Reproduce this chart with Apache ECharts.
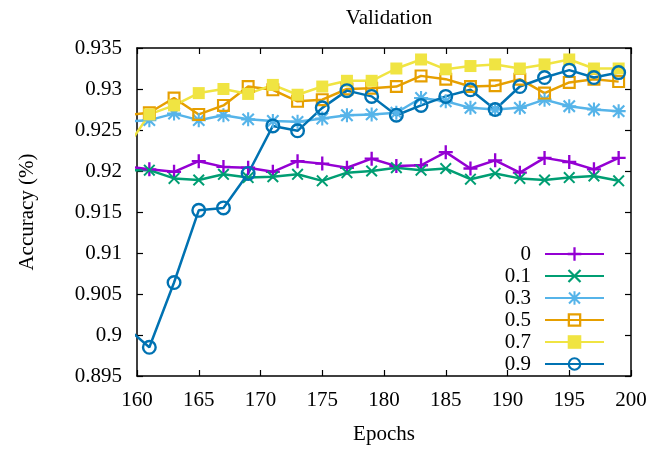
<!DOCTYPE html>
<html>
<head>
<meta charset="utf-8">
<script src="https://cdn.jsdelivr.net/npm/echarts@6/dist/echarts.min.js"></script>
<style>html,body{margin:0;padding:0;background:#fff;}#c{width:650px;height:450px;}</style>
</head>
<body>
<div id="c"></div>
<script>
const epochs = [159,161,163,165,167,169,171,173,175,177,179,181,183,185,187,189,191,193,195,197,199];
const seriesNames = ['0','0.1','0.3','0.5','0.7','0.9'];
const acc0  = [0.9206,0.9202,0.9199,0.9212,0.9205,0.9204,0.9199,0.9212,0.9209,0.9204,0.9215,0.9206,0.9207,0.9223,0.9203,0.9213,0.9198,0.9216,0.9211,0.9202,0.9216];
const acc01 = [0.9201,0.9201,0.9191,0.9189,0.9196,0.9192,0.9193,0.9196,0.9188,0.9198,0.9200,0.9204,0.9201,0.9203,0.9190,0.9197,0.9191,0.9189,0.9192,0.9194,0.9188];
const acc03 = [0.9260,0.9262,0.9270,0.9262,0.9268,0.9263,0.9261,0.9260,0.9264,0.9268,0.9269,0.9271,0.9289,0.9285,0.9277,0.9275,0.9277,0.9287,0.9279,0.9275,0.9273];
const acc05 = [0.9268,0.9271,0.9289,0.9269,0.9280,0.9303,0.9299,0.9285,0.9287,0.9300,0.9301,0.9303,0.9316,0.9312,0.9303,0.9304,0.9312,0.9295,0.9308,0.9312,0.9309];
const acc07 = [0.9225,0.9269,0.9280,0.9295,0.9300,0.9294,0.9305,0.9293,0.9303,0.9310,0.9310,0.9325,0.9336,0.9324,0.9328,0.9330,0.9325,0.9330,0.9336,0.9325,0.9325];
const acc09 = [0.9011,0.8985,0.9064,0.9152,0.9155,0.9197,0.9255,0.9249,0.9277,0.9298,0.9291,0.9268,0.9280,0.9291,0.9299,0.9275,0.9303,0.9314,0.9323,0.9314,0.9320];
const xTicks = {min:160, max:200, interval:5};
const yTicks = {min:0.895, max:0.935, interval:0.005};

const allValues = [acc0, acc01, acc03, acc05, acc07, acc09];
const colors = ['#9400d3','#009e73','#56b4e9','#e69f00','#f0e442','#0072b2'];
const symbols = [
  'path://M5,0H7V5H12V7H7V12H5V7H0V5H5Z',
  'path://M0,1.4L1.4,0L6,4.6L10.6,0L12,1.4L7.4,6L12,10.6L10.6,12L6,7.4L1.4,12L0,10.6L4.6,6Z',
  'path://M5.1,0H6.9V5.1H12V6.9H6.9V12H5.1V6.9H0V5.1H5.1Z M0.5,1.8L1.8,0.5L6,4.7L10.2,0.5L11.5,1.8L7.3,6L11.5,10.2L10.2,11.5L6,7.3L1.8,11.5L0.5,10.2L4.7,6Z',
  'path://M0,0H12V12H0Z M2,2V10H10V2Z',
  'rect',
  'path://M6,0A6,6,0,1,1,6,12A6,6,0,1,1,6,0Z M6,1.9A4.1,4.1,0,1,0,6,10.1A4.1,4.1,0,1,0,6,1.9Z'
];
const sizes = [14,12,14,13,12,15];
const font = 'Liberation Serif';
const fs = 21;

const chart = echarts.init(document.getElementById('c'), null, {renderer:'canvas'});
const fmtY = v => String(parseFloat(Number(v).toFixed(3)));
const axisLine = {show:true, lineStyle:{color:'#000', width:1.5}};
const tick = {show:true, inside:true, length:6, lineStyle:{color:'#000', width:1.2}};

chart.setOption({
  animation:false,
  backgroundColor:'#fff',
  title:{text:'Validation', left:384, textAlign:'center', top:3,
    textStyle:{fontFamily:font, fontSize:fs, fontWeight:'normal', color:'#000'}},
  grid:{left:137, right:19, top:48, bottom:71, containLabel:false},
  legend:{
    orient:'vertical', right:40, top:238, align:'right',
    itemWidth:59, itemHeight:17, itemGap:0,
    data:seriesNames,
    formatter:'{a|{name}}',
    textStyle:{fontFamily:font, fontSize:fs, color:'#000', lineHeight:22,
      rich:{a:{width:34, align:'right', padding:[0,9,0,0], fontFamily:font, fontSize:fs, lineHeight:22}}}
  },
  xAxis:[
    {type:'value', position:'bottom', min:xTicks.min, max:xTicks.max, interval:xTicks.interval,
     axisLine:axisLine, axisTick:tick, splitLine:{show:false},
     axisLabel:{fontFamily:font, fontSize:fs, color:'#000', margin:14},
     name:'Epochs', nameLocation:'middle', nameGap:48,
     nameTextStyle:{fontFamily:font, fontSize:fs, color:'#000'}},
    {type:'value', position:'top', min:xTicks.min, max:xTicks.max, interval:xTicks.interval,
     axisLine:axisLine, axisTick:tick, splitLine:{show:false}, axisLabel:{show:false}}
  ],
  yAxis:[
    {type:'value', position:'left', min:yTicks.min, max:yTicks.max, interval:yTicks.interval,
     axisLine:axisLine, axisTick:tick, splitLine:{show:false},
     axisLabel:{fontFamily:font, fontSize:fs, color:'#000', margin:15, formatter:fmtY},
     name:'Accuracy (%)', nameLocation:'middle', nameGap:99,
     nameTextStyle:{fontFamily:font, fontSize:fs, color:'#000'}},
    {type:'value', position:'right', min:yTicks.min, max:yTicks.max, interval:yTicks.interval,
     axisLine:axisLine, axisTick:tick, splitLine:{show:false}, axisLabel:{show:false}}
  ],
  series: seriesNames.map((n,i)=>({
    name:n, type:'line', xAxisIndex:0, yAxisIndex:0,
    data: epochs.map((e,j)=>[e, allValues[i][j]]),
    symbol:symbols[i], symbolSize:sizes[i], showSymbol:true, showAllSymbol:true,
    clip:true,
    lineStyle:{color:colors[i], width:2.5},
    itemStyle:{color:colors[i], borderWidth:0},
    emphasis:{disabled:true}
  }))
});
</script>
</body>
</html>
